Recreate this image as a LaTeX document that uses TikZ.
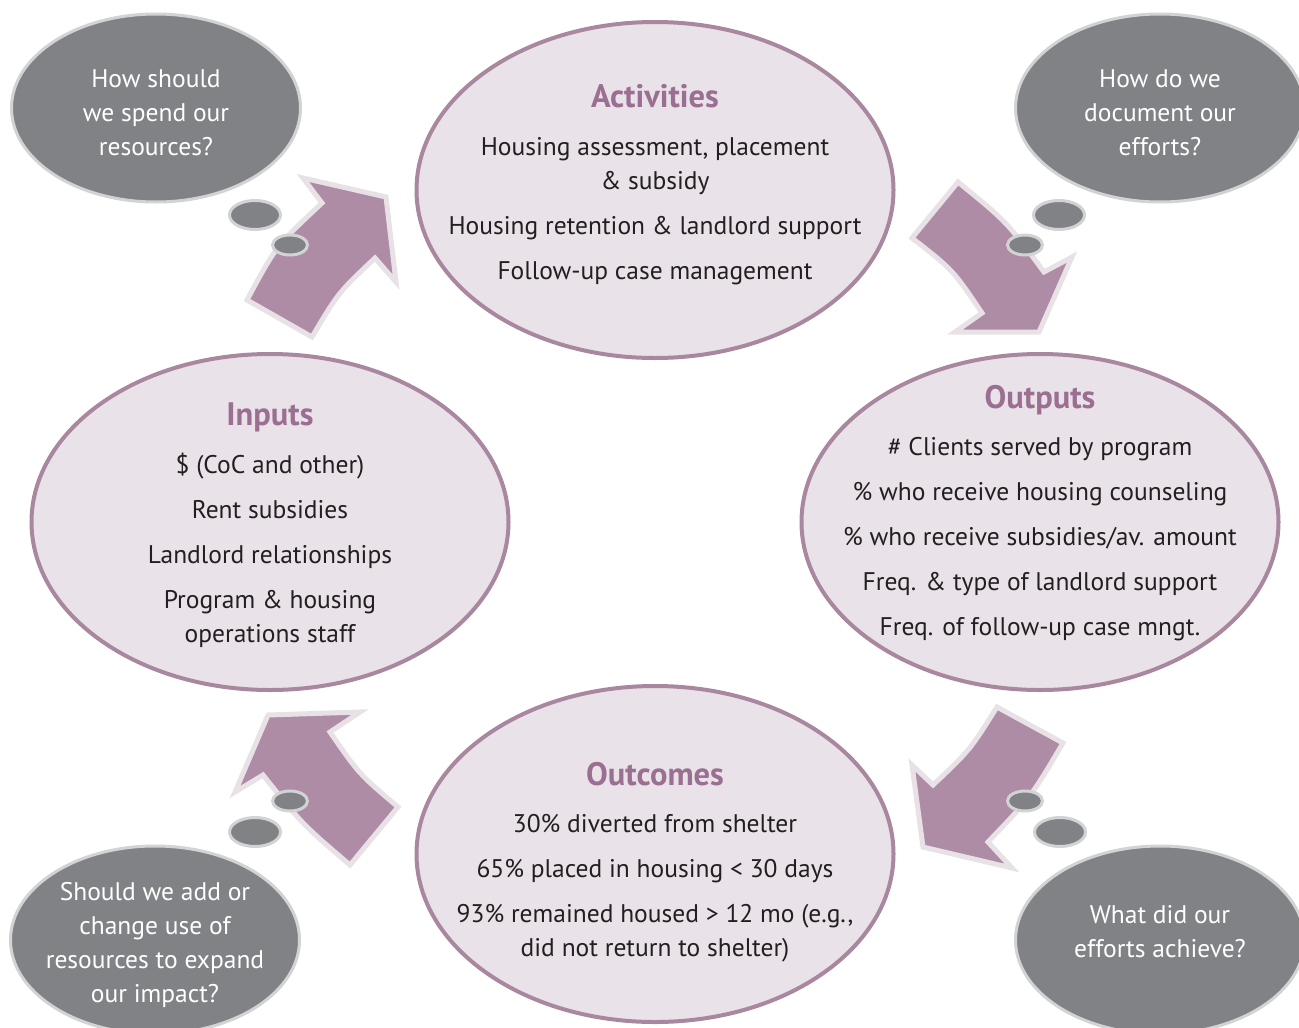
\documentclass[tikz,border=0pt]{standalone}
\usepackage{fontspec}
\setmainfont{PT Sans}
\usepackage{xcolor}
\usetikzlibrary{positioning}
\usetikzlibrary{shapes.geometric}

\definecolor{stagefill}{HTML}{E9E2E8}
\definecolor{stageline}{HTML}{A9879F}
\definecolor{titlepurple}{HTML}{9B6F91}
\definecolor{arrowfill}{HTML}{AE8CA6}
\definecolor{arrowrim}{HTML}{E8E1E6}
\definecolor{askgrey}{HTML}{808285}
\definecolor{askline}{HTML}{D1D3D4}
\definecolor{inktext}{HTML}{231F20}

\newcommand{\stagetitle}[1]{{\fontsize{32.5}{34}\selectfont\bfseries\color{titlepurple}#1}}

\begin{document}
\begin{tikzpicture}[x=1pt, y=-1pt, node distance = 332pt and 385pt, on grid,
  stagering/.style ={draw=stageline, line width=4pt, fill=stagefill},
  stagesize/.style ={x radius=238.5pt, y radius=168pt},
  stagetext/.style ={align=center, text=inktext, inner sep=0pt, font=\fontsize{25.5}{34}\selectfont},
  ask/.style ={ellipse, draw=askline, line width=3pt, fill=askgrey, minimum width=289pt, minimum height=188pt, inner sep=0pt},
  asktext/.style ={align=center, text=white, inner sep=0pt, font=\fontsize{25.5}{34}\selectfont},
  puff/.style ={ellipse, draw=askline, line width=3pt, fill=askgrey, inner sep=0pt},
  bigpuff/.style ={puff, minimum width=51pt, minimum height=29pt},
  smallpuff/.style ={puff, minimum width=35pt, minimum height=20pt},
  flow/.style ={fill=arrowfill, draw=arrowrim, line width=5pt, line join=miter}]
\useasboundingbox (0,0) rectangle (1299,1028);
\clip (0,0) rectangle (1299,1028);

\coordinate (act) at (655,190);
\coordinate[below left =of act] (inp);
\coordinate[below right =of act] (outp);
\coordinate[below right =of inp] (outc);
\foreach \s in {act,inp,outp,outc}
  \draw[stagering] (\s) ellipse [stagesize];

\node[stagetext, yshift=5pt] (act-text) at (act) {\stagetitle{Activities}\\[14pt]
  Housing assessment, placement\\ \& subsidy\\[11pt]
  Housing retention \& landlord support\\[11pt]
  Follow-up case management};
\node[stagetext, yshift=-3.5pt] (inp-text) at (inp) {\stagetitle{Inputs}\\[14pt]
  \$ (CoC and other)\\[11pt]
  Rent subsidies\\[11pt]
  Landlord relationships\\[11pt]
  Program \& housing\\ operations staff};
\node[stagetext, yshift=9pt] (outp-text) at (outp) {\stagetitle{Outputs}\\[13pt]
  \# Clients served by program\\[11pt]
  \% who receive housing counseling\\[11pt]
  \% who receive subsidies/av. amount\\[11pt]
  Freq. \& type of landlord support\\[11pt]
  Freq. of follow-up case mngt.};
\node[stagetext, yshift=-8pt] (outc-text) at (outc) {\stagetitle{Outcomes}\\[13pt]
  30\% diverted from shelter\\[11pt]
  65\% placed in housing < 30 days\\[11pt]
  93\% remained housed > 12 mo (e.g.,\\ did not return to shelter)};

% curved block arrows between the stages
\path[flow] (303,178) -- (386,197) -- (396,282) -- (375,258) .. controls (338,293) .. (312,337)
  -- (247,300) .. controls (276,246) .. (322,203) -- cycle;
\path[flow] (958,182) -- (912,238) .. controls (953,270) .. (982,313) -- (955,332) -- (1039,332)
  -- (1072,257) -- (1044,272) .. controls (1007,222) .. (958,182) -- cycle;
\path[flow] (997,707) -- (1063,743) .. controls (1031,797) .. (988,842) -- (1012,868) -- (923,847)
  -- (912,765) -- (933,785) .. controls (970,750) .. (997,707) -- cycle;
\path[flow] (268,715) -- (360,712) -- (330,732) .. controls (359,774) .. (398,807)
  -- (350,865) .. controls (302,824) .. (263,775) -- (235,792) -- cycle;

\node[ask] (spend) at (156,108) {};
\node[ask] (record) at (1160,108) {};
\node[ask] (expand) at (155,940) {};
\node[ask] (achieve) at (1160,940) {};
\node[asktext] at (156,113) {How should\\we spend our\\resources?};
\node[asktext] at (1160,113) {How do we\\document our\\efforts?};
\node[asktext] at (155,945) {Should we add or\\change use of\\resources to expand\\our impact?};
\node[asktext] at (1160,931.5) {What did our\\efforts achieve?};

\node[bigpuff] (spend-a) at (255,215) {};
\node[smallpuff] (spend-b) at (290,245) {};
\node[bigpuff] (record-a) at (1059,215) {};
\node[smallpuff] (record-b) at (1025,245) {};
\node[bigpuff] (achieve-a) at (1060,832) {};
\node[smallpuff] (achieve-b) at (1025,801) {};
\node[bigpuff] (expand-a) at (255,832) {};
\node[smallpuff] (expand-b) at (290,801) {};
\end{tikzpicture}
\end{document}
